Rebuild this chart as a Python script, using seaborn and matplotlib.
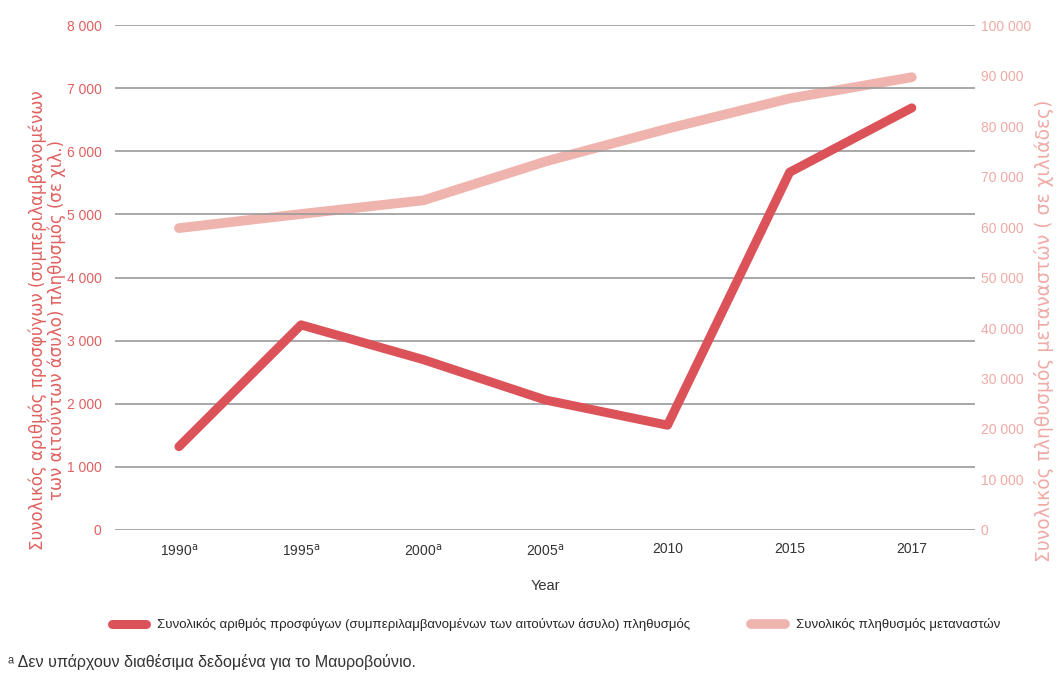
import matplotlib
matplotlib.use("Agg")
import matplotlib.pyplot as plt
import matplotlib.ticker as mticker
import seaborn as sns
import pandas as pd

# ------------------------------------------------------------
# Data
# ------------------------------------------------------------
years = ["1990$^{\\mathrm{a}}$", "1995$^{\\mathrm{a}}$", "2000$^{\\mathrm{a}}$",
         "2005$^{\\mathrm{a}}$", "2010", "2015", "2017"]
refugees = [1320, 3250, 2700, 2060, 1660, 5670, 6690]            # thousands, left axis
migrants = [59800, 62600, 65300, 73000, 79500, 85500, 89700]     # right axis

refugee_label = "Συνολικός αριθμός προσφύγων (συμπεριλαμβανομένων των αιτούντων άσυλο) πληθυσμός"
migrant_label = "Συνολικός πληθυσμός μεταναστών"
left_ylabel = ("Συνολικός αριθμός προσφύγων (συμπεριλαμβανομένων\n"
               "των αιτούντων άσυλο) πληθυσμός (σε χιλ.)")
right_ylabel = "Συνολικός πληθυσμός μεταναστών ( σε χιλιάδες)"
footnote = "ᵃ Δεν υπάρχουν διαθέσιμα δεδομένα για το Μαυροβούνιο."

RED = "#dc5259"
PINK = "#f0b4ae"
LEFT_TICK = "#e0615f"
RIGHT_TICK = "#efaaa5"

df = pd.DataFrame({"Year": years, "refugees": refugees, "migrants": migrants})

# ------------------------------------------------------------
# Plot
# ------------------------------------------------------------
sns.set_style("white")
plt.rcParams["font.family"] = ["Liberation Sans", "DejaVu Sans"]

fig = plt.figure(figsize=(10.59, 6.82), dpi=100)
ax = fig.add_axes([0.109, 0.223, 0.812, 0.740])
ax2 = ax.twinx()

sns.lineplot(data=df, x="Year", y="migrants", ax=ax2, color=PINK,
             linewidth=7, solid_capstyle="round", label=migrant_label, legend=False)
sns.lineplot(data=df, x="Year", y="refugees", ax=ax, color=RED,
             linewidth=6.5, solid_capstyle="round", label=refugee_label, legend=False)

# red line drawn above the twin axis
ax.set_zorder(ax2.get_zorder() + 1)
ax.patch.set_visible(False)

ax.set_ylim(0, 8000)
ax2.set_ylim(0, 100000)
ax.set_xlim(-0.52, 6.52)

fmt = mticker.FuncFormatter(lambda v, p: "{:,.0f}".format(v).replace(",", " "))
ax.yaxis.set_major_locator(mticker.MultipleLocator(1000))
ax2.yaxis.set_major_locator(mticker.MultipleLocator(10000))
ax.yaxis.set_major_formatter(fmt)
ax2.yaxis.set_major_formatter(fmt)

ax.grid(axis="y", color="#9a9a9a", linewidth=1.2)
ax.grid(axis="x", visible=False)
ax2.grid(False)
for a in (ax, ax2):
    for s in a.spines.values():
        s.set_visible(False)

ax.tick_params(axis="y", length=0, pad=10, labelsize=10, labelcolor=LEFT_TICK)
ax2.tick_params(axis="y", length=0, pad=4, labelsize=10, labelcolor=RIGHT_TICK)
ax.tick_params(axis="x", length=0, pad=9, labelsize=10, labelcolor="#333333")

ax.set_xlabel("Year", fontsize=10.5, color="#333333", labelpad=15)
ax.set_ylabel(left_ylabel, fontsize=12, family="DejaVu Sans", color=LEFT_TICK,
              linespacing=1.0)
ax.yaxis.set_label_coords(-0.058, 0.416)
ax2.set_ylabel(right_ylabel, fontsize=13.5, family="DejaVu Sans", color=RIGHT_TICK)
ax2.yaxis.set_label_coords(1.068, 0.395)

h1, l1 = ax.get_legend_handles_labels()
h2, l2 = ax2.get_legend_handles_labels()
fig.legend(h1 + h2, l1 + l2, loc="center", bbox_to_anchor=(0.525, 0.084), ncol=2,
           frameon=False, fontsize=9.5, handlelength=2.6, handletextpad=0.8,
           columnspacing=4.6)

fig.text(0.008, 0.03, footnote, fontsize=11.5, color="#333333", ha="left", va="center")

fig.savefig("out.png", dpi=100, facecolor="white")
